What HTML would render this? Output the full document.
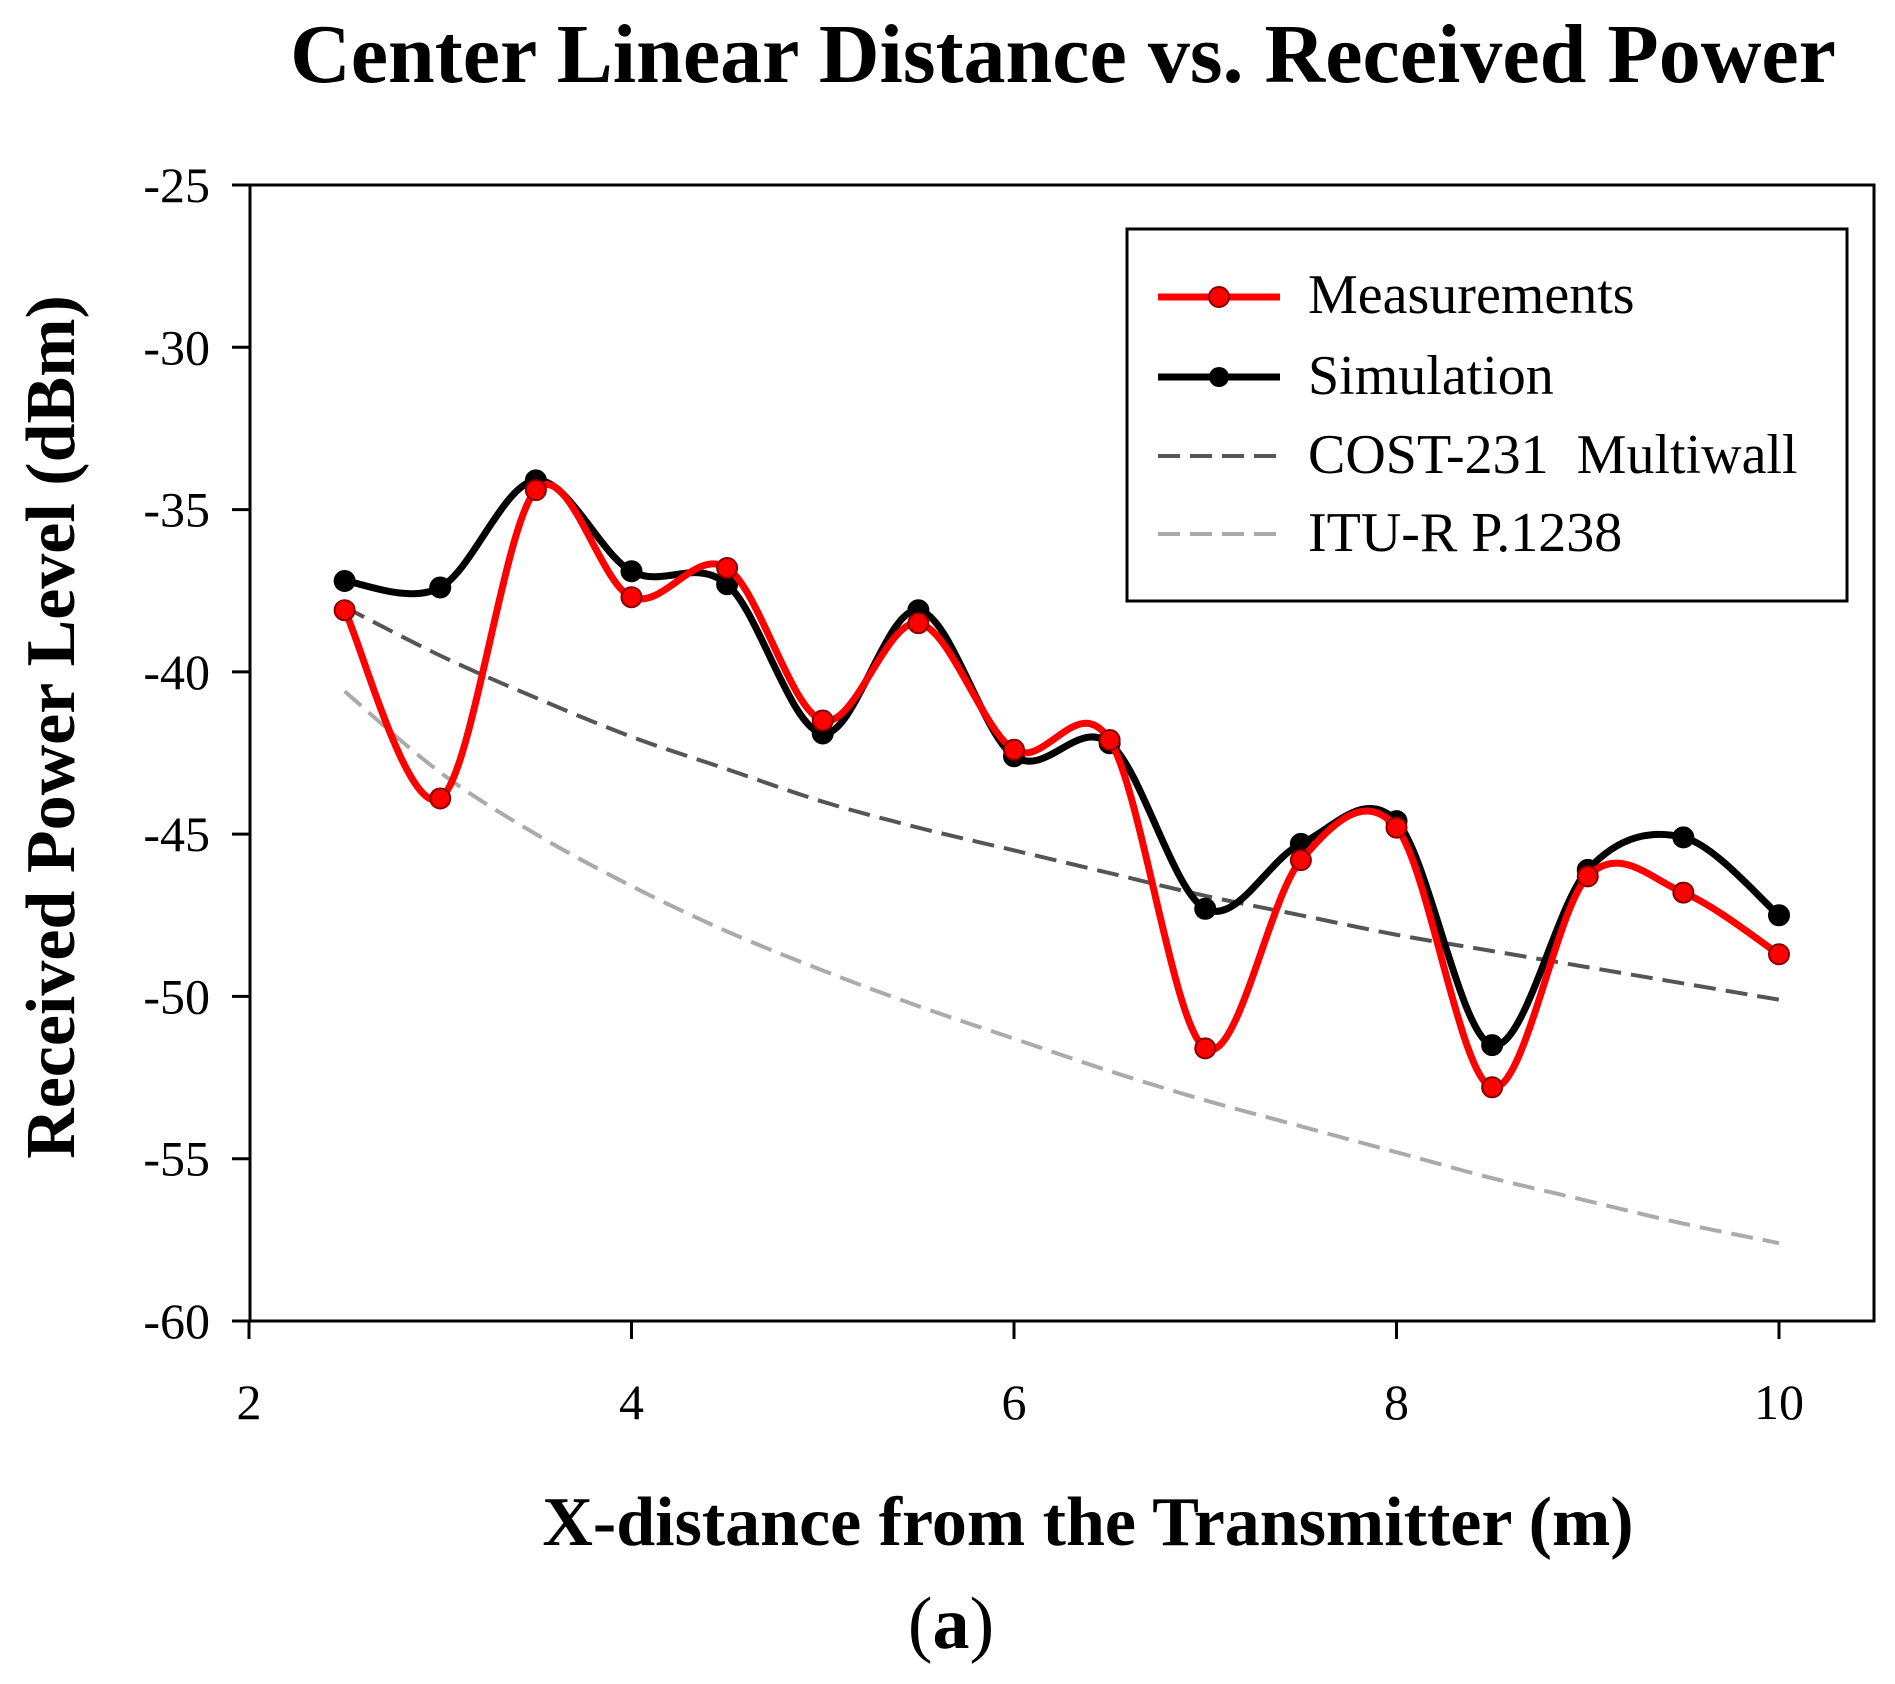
<!DOCTYPE html>
<html><head><meta charset="utf-8"><style>
html,body{margin:0;padding:0;background:#fff;}
svg{display:block;font-family:"Liberation Serif",serif;}
</style></head><body>
<svg id="chart" width="1895" height="1684" viewBox="0 0 1895 1684">
<text x="1063" y="82" text-anchor="middle" font-size="84" font-weight="bold">Center Linear Distance vs. Received Power</text>
<g id="axes"></g>
<g id="series"></g>
<rect x="1127" y="229" width="720" height="372" fill="#fff" stroke="#000" stroke-width="3"/>
<g>
<line x1="1158" y1="297" x2="1280" y2="297" stroke="#f00" stroke-width="7"/>
<circle cx="1219" cy="297" r="10" fill="#f00" stroke="#800" stroke-width="2"/>
<text x="1308" y="313" font-size="56">Measurements</text></g>
<g>
<line x1="1158" y1="377" x2="1280" y2="377" stroke="#000" stroke-width="7"/>
<circle cx="1219" cy="377" r="10" fill="#000"/>
<text x="1308" y="394" font-size="56">Simulation</text></g>
<g>
<line x1="1158" y1="456" x2="1280" y2="456" stroke="#555" stroke-width="4" stroke-dasharray="22,10"/>
<text x="1308" y="473" font-size="56" xml:space="preserve">COST-231  Multiwall</text></g>
<g>
<line x1="1158" y1="534" x2="1280" y2="534" stroke="#aaa" stroke-width="4" stroke-dasharray="22,10"/>
<text x="1308" y="551" font-size="56">ITU-R P.1238</text></g>
<text transform="translate(74,727) rotate(-90)" text-anchor="middle" font-size="70" font-weight="bold">Received Power Level (dBm)</text>
<text x="1088" y="1545" text-anchor="middle" font-size="70" font-weight="bold">X-distance from the Transmitter (m)</text>
<text x="951" y="1648" text-anchor="middle" font-size="74">(<tspan font-weight="bold">a</tspan>)</text>
</svg>
<script>
const xValues=[2.5,3,3.5,4,4.5,5,5.5,6,6.5,7,7.5,8,8.5,9,9.5,10];
const measurements=[-38.1,-43.9,-34.4,-37.7,-36.8,-41.5,-38.5,-42.4,-42.1,-51.6,-45.8,-44.8,-52.8,-46.3,-46.8,-48.7];
const simulation=[-37.2,-37.4,-34.1,-36.9,-37.3,-41.9,-38.1,-42.6,-42.2,-47.3,-45.3,-44.6,-51.5,-46.1,-45.1,-47.5];
const cost231=[-38.0,-39.5,-40.8,-42.0,-43.0,-44.0,-44.8,-45.5,-46.2,-46.9,-47.5,-48.1,-48.6,-49.1,-49.6,-50.1];
const ituR=[-40.6,-43.1,-45.0,-46.6,-48.0,-49.2,-50.3,-51.3,-52.3,-53.2,-54.0,-54.8,-55.6,-56.3,-57.0,-57.6];
const xTicks=[2,4,6,8,10];
const yTicks=[-25,-30,-35,-40,-45,-50,-55,-60];
const NS='http://www.w3.org/2000/svg';
const L=250,R=1874,T=185,B=1321;
function sx(v){return 249+(v-2)*191.25;}
function sy(v){return T+(-25-v)*(B-T)/35;}
function mk(tag,attrs,parent){const e=document.createElementNS(NS,tag);for(const k in attrs)e.setAttribute(k,attrs[k]);parent.appendChild(e);return e;}
const axes=document.getElementById('axes'),series=document.getElementById('series');
const frame=mk('rect',{x:L,y:T,width:R-L,height:B-T,fill:'none',stroke:'#000','stroke-width':3},axes);


yTicks.forEach(v=>{const y=sy(v);
 mk('line',{x1:L-18,y1:y,x2:L,y2:y,stroke:'#000','stroke-width':3},axes);
 const t=mk('text',{x:L-40,y:y+17,'text-anchor':'end','font-size':50},axes);t.textContent=v;
 
 });
xTicks.forEach(v=>{const x=sx(v);
 mk('line',{x1:x,y1:B,x2:x,y2:B+18,stroke:'#000','stroke-width':3},axes);
 const t=mk('text',{x:x,y:B+98,'text-anchor':'middle','font-size':50},axes);t.textContent=v;
 
 });
function smooth(vals){const p=xValues.map((x,i)=>[sx(x),sy(vals[i])]);let d='M'+p[0][0]+','+p[0][1];
 for(let i=0;i<p.length-1;i++){const p0=p[i-1]||p[i],p1=p[i],p2=p[i+1],p3=p[i+2]||p[i+1];
 d+=' C'+(p1[0]+(p2[0]-p0[0])/6)+','+(p1[1]+(p2[1]-p0[1])/6)+' '+(p2[0]-(p3[0]-p1[0])/6)+','+(p2[1]-(p3[1]-p1[1])/6)+' '+p2[0]+','+p2[1];}return d;}
function line(vals,stroke,w,dash,name,markers,mfill,mstroke){
 const g=mk('g',{},series);
 
 
 const a={d:smooth(vals),fill:'none',stroke:stroke,'stroke-width':w};if(dash)a['stroke-dasharray']=dash;mk('path',a,g);
 if(markers)vals.forEach((v,i)=>{const c=mk('circle',{cx:sx(xValues[i]),cy:sy(v),r:10,fill:mfill,stroke:mstroke,'stroke-width':2},g);
  
  });}
line(ituR,'#aaa',4,'22,10','itu-r-series',false);
line(cost231,'#555',4,'22,10','cost231-series',false);
line(simulation,'#000',7,null,'simulation-series',true,'#000','#000');
line(measurements,'#f00',7,null,'measurements-series',true,'#f00','#800');
</script>
</body></html>
